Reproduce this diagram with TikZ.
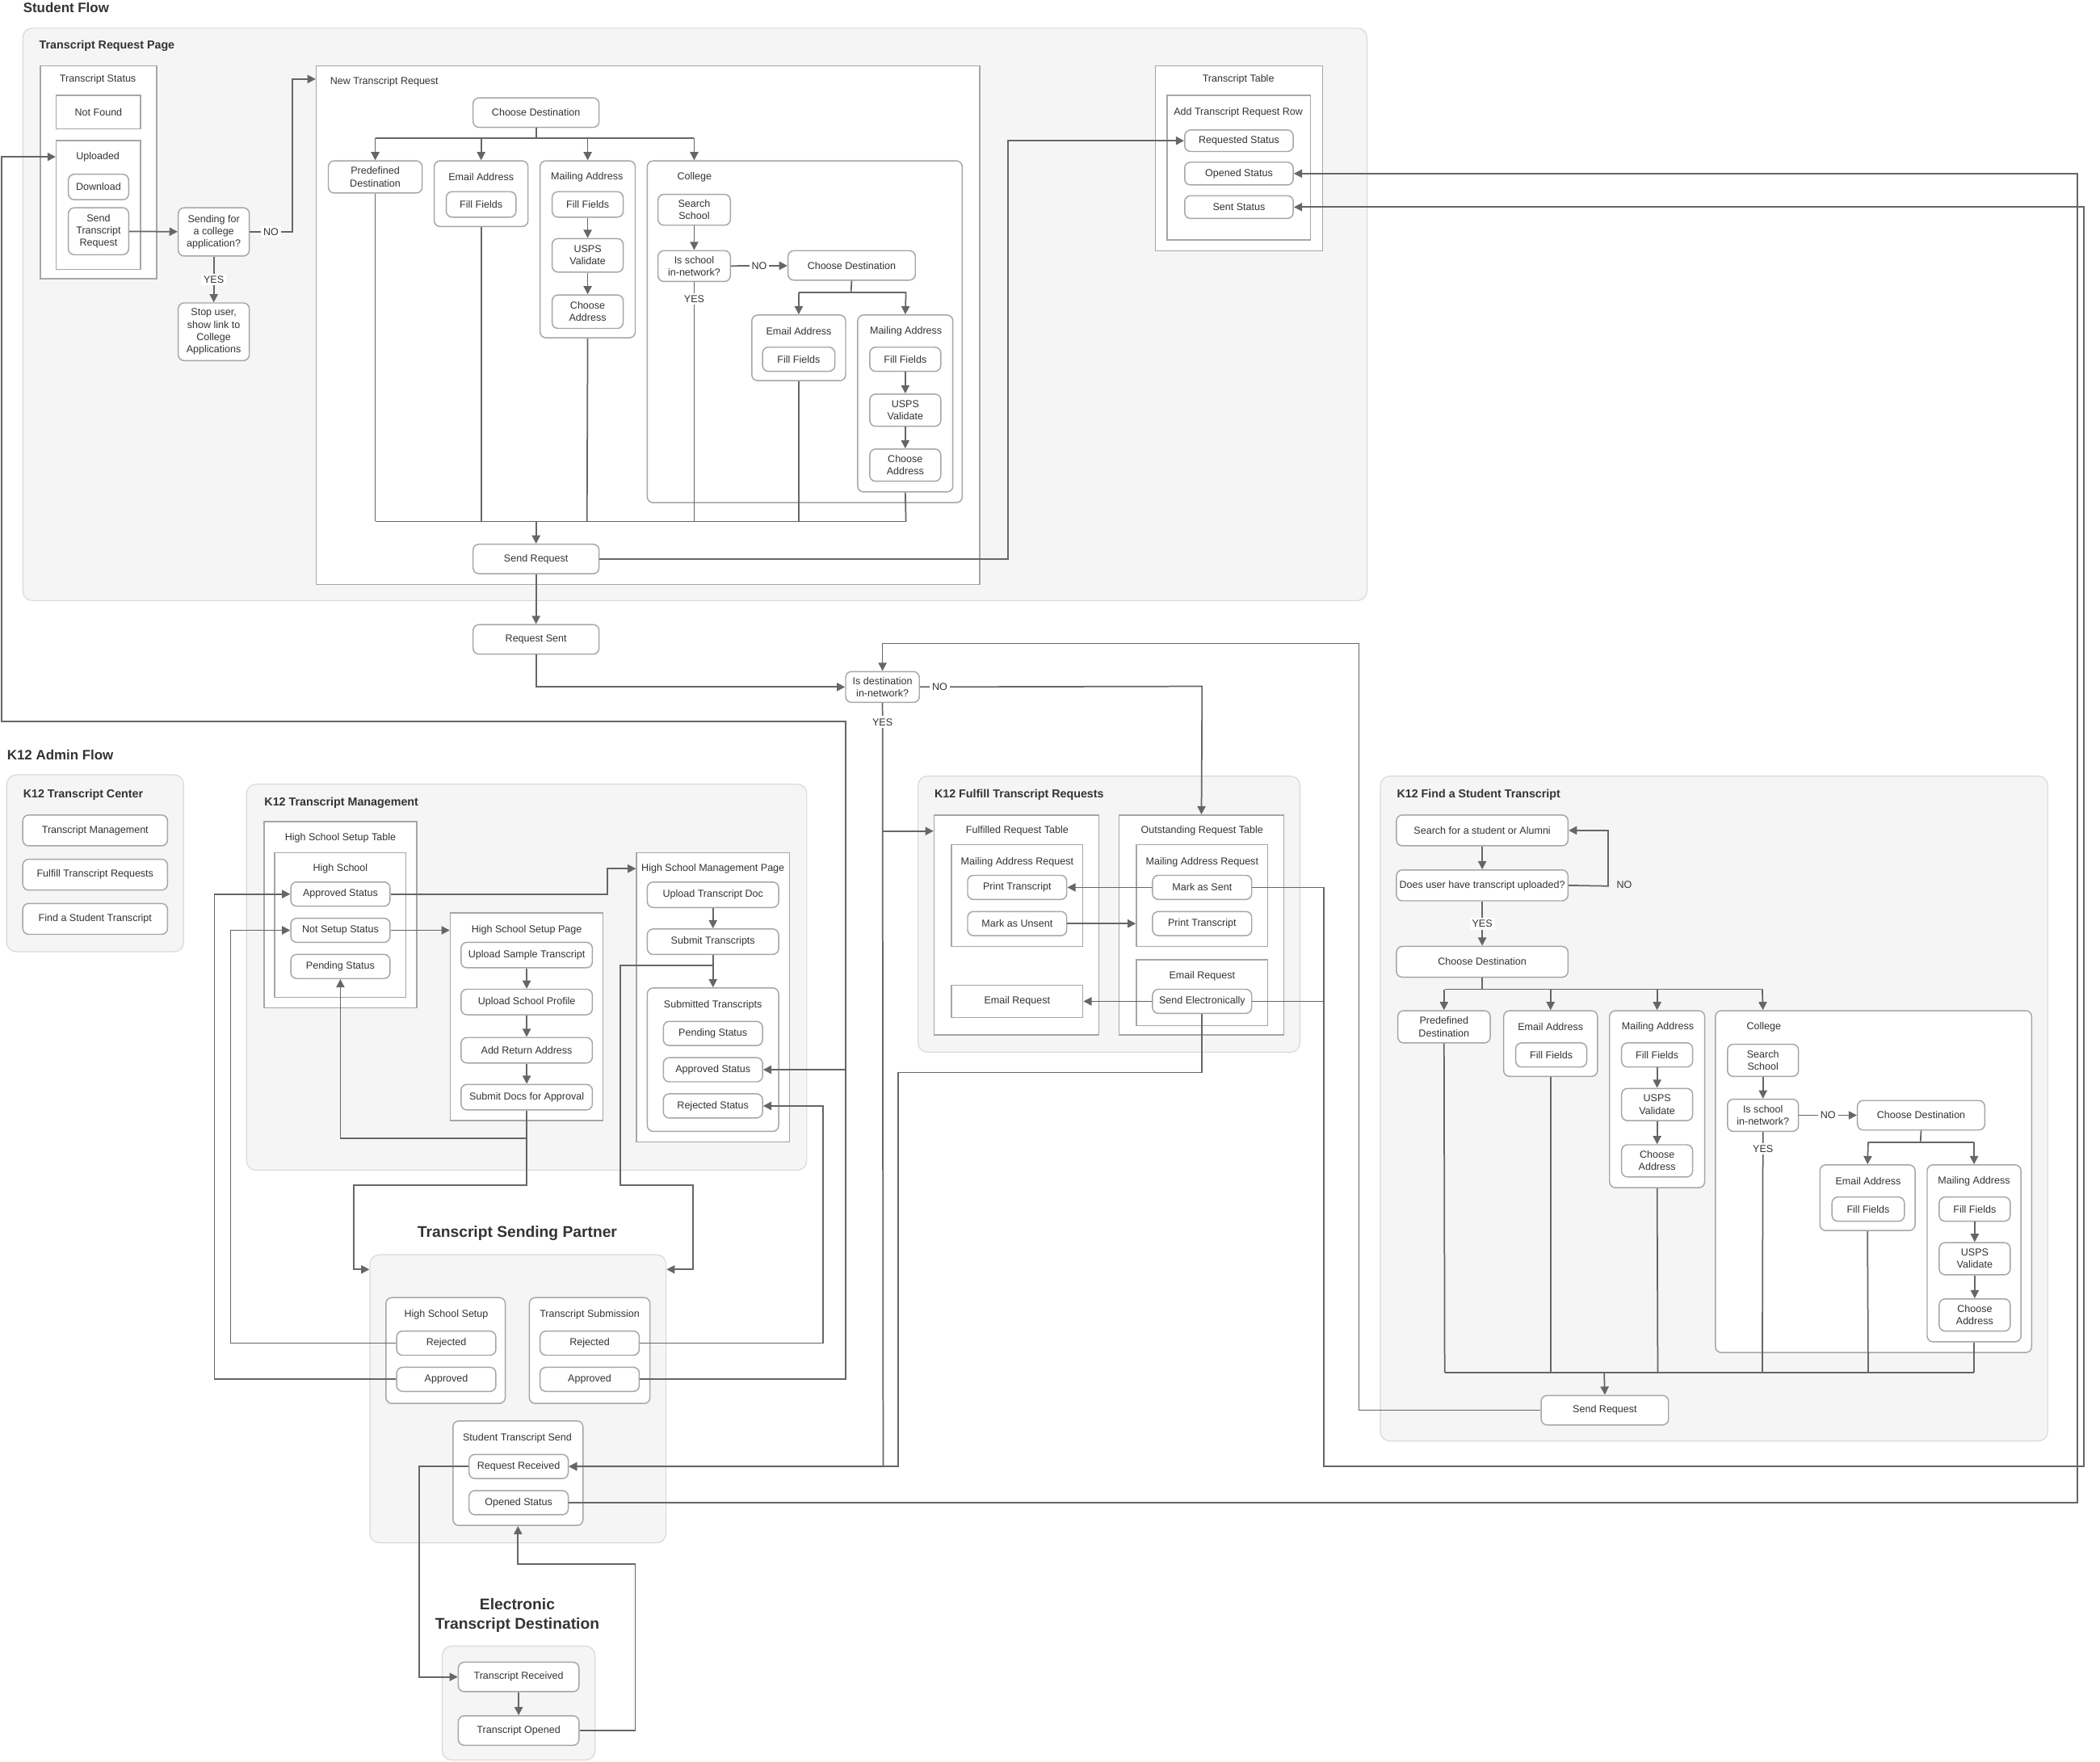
\documentclass[tikz,border=0pt]{standalone}
\usepackage{fontspec}
\setmainfont{Liberation Sans}
\usetikzlibrary{arrows.meta}
\newcommand{\fs}{\fontsize{4.3}{5.2}\selectfont}
\newcommand{\bx}[7][box]{\node[#1, minimum width={(#5-#3)*0.02cm}, minimum height={(#6-#4)*0.02cm}] (#2) at ({(#3+#5)/2},{(#4+#6)/2}) {#7};}
\tikzset{
  panel/.style={draw=black!15, fill=black!4, rounded corners=4pt, inner sep=0pt},
  cont/.style={draw=black!35, fill=white, line width=0.5pt, inner sep=0pt},
  box/.style={draw=black!35, fill=white, line width=0.5pt, rounded corners=2.5pt, inner sep=0pt, align=center, font=\fs, text=black!80},
  sq/.style={box, rounded corners=0pt},
  lbl/.style={font=\fs, text=black!80, inner sep=0pt},
  ttl/.style={font=\fontsize{5.8}{7}\selectfont\bfseries, text=black!80, inner sep=0pt, align=center},
  ptl/.style={font=\fontsize{4.9}{6}\selectfont\bfseries, text=black!80, inner sep=0pt, anchor=west},
  yl/.style={font=\fs, text=black!80, fill=white, inner sep=1pt},
  ln/.style={draw=black!60, line width=0.6pt},
  arr/.style={ln, -{Triangle[length=3.5pt,width=3.5pt]}}
}
\begin{document}
\begin{tikzpicture}[x=0.02cm, y=-0.02cm]
  \useasboundingbox (0,0) rectangle (1567,1314);
  % Student flow
  \node[ttl, anchor=west] (sfT) at (17,6) {Student Flow};
  \bx[panel]{trp}{17}{21}{1020}{448}{}
  \node[ptl] (trpT) at (29,34) {Transcript Request Page};
  \bx[cont]{ts}{30}{49}{117}{208}{}
  \node[lbl] (tsL) at (73,59) {Transcript Status};
  \bx[sq]{nf}{42}{71}{105}{96}{Not Found}
  \bx[cont]{up}{42}{105}{105}{201}{}
  \node[lbl] (upL) at (73,117) {Uploaded};
  \bx{dl}{51}{130}{96}{149}{Download}
  \bx{str}{51}{155}{96}{190}{Send\\Transcript\\Request}
  \bx{sfc}{133}{155}{186}{191}{Sending for\\a college\\application?}
  \bx{stop}{133}{226}{186}{269}{Stop user,\\show link to\\College\\Applications}

  \bx[cont]{ntr}{236}{49}{731}{436}{}
  \node[lbl, anchor=west] (ntrL) at (246,61) {New Transcript Request};
  \bx{cd1}{353}{73}{447}{95}{Choose Destination}
  \bx{pd1}{245}{120}{315}{144}{Predefined\\Destination}
  \bx[box]{ea1}{324}{120}{394}{169}{}
  \node[lbl] (ea1L) at (359,132) {Email Address};
  \bx{ff1}{333}{143}{385}{162}{Fill Fields}
  \bx[box]{ma1}{403}{120}{474}{252}{}
  \node[lbl] (ma1L) at (438,132) {Mailing Address};
  \bx{ff2}{412}{143}{465}{162}{Fill Fields}
  \bx{uv1}{412}{178}{465}{203}{USPS\\Validate}
  \bx{ca1}{412}{220}{465}{245}{Choose\\Address}
  \bx[box]{co1}{483}{120}{718}{375}{}
  \node[lbl, anchor=west] (co1L) at (505,132) {College};
  \bx{ss1}{491}{145}{545}{168}{Search\\School}
  \bx{isn1}{491}{187}{545}{210}{Is school\\in-network?}
  \bx{cd2}{588}{187}{683}{209}{Choose Destination}
  \bx[box]{ea2}{561}{235}{631}{284}{}
  \node[lbl] (ea2L) at (596,247) {Email Address};
  \bx{ff3}{569}{259}{623}{277}{Fill Fields}
  \bx[box]{ma2}{640}{235}{711}{367}{}
  \node[lbl] (ma2L) at (676,247) {Mailing Address};
  \bx{ff4}{649}{259}{702}{277}{Fill Fields}
  \bx{uv2}{649}{294}{702}{318}{USPS\\Validate}
  \bx{ca2}{649}{335}{702}{359}{Choose\\Address}
  \bx{sr1}{353}{406}{447}{428}{Send Request}

  \bx[cont]{tt}{862}{49}{987}{187}{}
  \node[lbl] (ttL) at (924,59) {Transcript Table};
  \bx[cont]{atr}{871}{71}{978}{179}{}
  \node[lbl] (atrL) at (924,84) {Add Transcript Request Row};
  \bx{rqs}{884}{97}{965}{113}{Requested Status}
  \bx{ops1}{884}{121}{965}{138}{Opened Status}
  \bx{sts}{884}{146}{965}{163}{Sent Status}

  \bx{rs1}{353}{466}{447}{488}{Request Sent}
  \bx{idn}{631}{501}{686}{524}{Is destination\\in-network?}

  % K12 admin flow
  \node[ttl, anchor=west] (kaT) at (5,563) {K12 Admin Flow};
  \bx[panel]{tc}{5}{578}{137}{710}{}
  \node[ptl] (tcT) at (17,593) {K12 Transcript Center};
  \bx{tm}{17}{608}{125}{631}{Transcript Management}
  \bx{ftr}{17}{641}{125}{664}{Fulfill Transcript Requests}
  \bx{fst}{17}{674}{125}{697}{Find a Student Transcript}

  \bx[panel]{tmg}{184}{585}{602}{873}{}
  \node[ptl] (tmgT) at (197,599) {K12 Transcript Management};
  \bx[cont]{hst}{197}{613}{311}{752}{}
  \node[lbl] (hstL) at (254,625) {High School Setup Table};
  \bx[cont]{hs}{205}{636}{303}{744}{}
  \node[lbl] (hsL) at (254,648) {High School};
  \bx{aps}{217}{658}{291}{676}{Approved Status}
  \bx{nss}{217}{685}{291}{703}{Not Setup Status}
  \bx{pns}{217}{712}{291}{730}{Pending Status}
  \bx[cont]{hsp}{336}{681}{450}{836}{}
  \node[lbl] (hspL) at (393,694) {High School Setup Page};
  \bx{ust}{344}{703}{442}{722}{Upload Sample Transcript}
  \bx{usp}{344}{738}{442}{757}{Upload School Profile}
  \bx{ara}{344}{774}{442}{793}{Add Return Address}
  \bx{sda}{344}{809}{442}{828}{Submit Docs for Approval}
  \bx[cont]{hsm}{475}{636}{589}{852}{}
  \node[lbl] (hsmL) at (532,648) {High School Management Page};
  \bx{utd}{483}{658}{581}{677}{Upload Transcript Doc}
  \bx{sbt}{483}{693}{581}{712}{Submit Transcripts}
  \bx[box]{sbc}{483}{737}{581}{844}{}
  \node[lbl] (sbcL) at (532,750) {Submitted Transcripts};
  \bx{pns2}{495}{762}{569}{780}{Pending Status}
  \bx{aps2}{495}{789}{569}{807}{Approved Status}
  \bx{rjs}{495}{816}{569}{834}{Rejected Status}

  \node[ttl, font=\fontsize{6.6}{8}\selectfont\bfseries] (tspT) at (386,920) {Transcript Sending Partner};
  \bx[panel]{tsp}{276}{936}{497}{1151}{}
  \bx[box]{hss}{288}{968}{377}{1047}{}
  \node[lbl] (hssL) at (333,981) {High School Setup};
  \bx{rj1}{296}{993}{370}{1011}{Rejected}
  \bx{ap1}{296}{1020}{370}{1038}{Approved}
  \bx[box]{tsb}{395}{968}{485}{1047}{}
  \node[lbl] (tsbL) at (440,981) {Transcript Submission};
  \bx{rj2}{403}{993}{477}{1011}{Rejected}
  \bx{ap2}{403}{1020}{477}{1038}{Approved}
  \bx[box]{sts2}{338}{1060}{435}{1138}{}
  \node[lbl] (sts2L) at (386,1073) {Student Transcript Send};
  \bx{rrc}{350}{1085}{424}{1103}{Request Received}
  \bx{ops2}{350}{1112}{424}{1130}{Opened Status}

  \node[ttl, font=\fontsize{6.6}{8}\selectfont\bfseries] (etdT) at (386,1205) {Electronic\\Transcript Destination};
  \bx[panel]{etd}{330}{1228}{444}{1313}{}
  \bx{trc}{342}{1240}{432}{1262}{Transcript Received}
  \bx{top}{342}{1280}{432}{1302}{Transcript Opened}

  \bx[panel]{ftp}{685}{579}{970}{785}{}
  \node[ptl] (ftpT) at (697,593) {K12 Fulfill Transcript Requests};
  \bx[cont]{frt}{697}{608}{820}{772}{}
  \node[lbl] (frtL) at (759,620) {Fulfilled Request Table};
  \bx[cont]{mar1}{710}{630}{808}{706}{}
  \node[lbl] (mar1L) at (759,643) {Mailing Address Request};
  \bx{pt1}{722}{653}{796}{671}{Print Transcript}
  \bx{mau}{722}{680}{796}{698}{Mark as Unsent}
  \bx[sq]{er1}{710}{735}{808}{759}{Email Request}
  \bx[cont]{ort}{835}{608}{958}{772}{}
  \node[lbl] (ortL) at (897,620) {Outstanding Request Table};
  \bx[cont]{mar2}{848}{630}{946}{706}{}
  \node[lbl] (mar2L) at (897,643) {Mailing Address Request};
  \bx{mas}{860}{653}{934}{671}{Mark as Sent}
  \bx{pt2}{860}{680}{934}{698}{Print Transcript}
  \bx[cont]{er2}{848}{716}{946}{765}{}
  \node[lbl] (er2L) at (897,728) {Email Request};
  \bx{sel}{860}{738}{934}{756}{Send Electronically}

  \bx[panel]{fsp}{1030}{579}{1528}{1075}{}
  \node[ptl] (fspT) at (1042,593) {K12 Find a Student Transcript};
  \bx{sfa}{1042}{608}{1170}{631}{Search for a student or Alumni}
  \bx{dut}{1042}{649}{1170}{672}{Does user have transcript uploaded?}
  \bx{cd3}{1042}{706}{1170}{729}{Choose Destination}
  \bx{pd3}{1043}{754}{1112}{778}{Predefined\\Destination}
  \bx[box]{ea3}{1122}{754}{1192}{803}{}
  \node[lbl] (ea3L) at (1157,766) {Email Address};
  \bx{ff5}{1131}{778}{1184}{796}{Fill Fields}
  \bx[box]{ma3}{1201}{754}{1272}{886}{}
  \node[lbl] (ma3L) at (1237,766) {Mailing Address};
  \bx{ff6}{1210}{778}{1263}{796}{Fill Fields}
  \bx{uv3}{1210}{812}{1263}{836}{USPS\\Validate}
  \bx{ca3}{1210}{854}{1263}{878}{Choose\\Address}
  \bx[box]{co3}{1280}{754}{1516}{1009}{}
  \node[lbl, anchor=west] (co3L) at (1303,766) {College};
  \bx{ss3}{1289}{779}{1342}{803}{Search\\School}
  \bx{isn3}{1289}{820}{1342}{844}{Is school\\in-network?}
  \bx{cd4}{1386}{821}{1481}{843}{Choose Destination}
  \bx[box]{ea4}{1358}{869}{1429}{918}{}
  \node[lbl] (ea4L) at (1394,881) {Email Address};
  \bx{ff7}{1367}{893}{1421}{911}{Fill Fields}
  \bx[box]{ma4}{1438}{869}{1508}{1001}{}
  \node[lbl] (ma4L) at (1473,881) {Mailing Address};
  \bx{ff8}{1447}{893}{1500}{911}{Fill Fields}
  \bx{uv4}{1447}{927}{1500}{951}{USPS\\Validate}
  \bx{ca4}{1447}{969}{1500}{993}{Choose\\Address}
  \bx{sr2}{1150}{1041}{1245}{1063}{Send Request}

  % Transcript request page
  \draw[arr] (str) -- (sfc);
  \draw[arr] (sfc.east) -- node[yl]{NO} (218,173) -- (218,59) -- (ntr.west |- 0,59);
  \draw[arr] (sfc) -- node[yl]{YES} (stop);
  \draw[ln] (cd1.south) -- (400,103);
  \draw[ln] (280,103) -- (518,103);
  \foreach \n in {pd1,ea1,ma1} \draw[arr] (\n.north |- 0,103) -- (\n.north);
  \draw[arr] (518,103) -- (ss1.north |- co1.north);
  \draw[arr] (ff2) -- (uv1);
  \draw[arr] (uv1) -- (ca1);
  \draw[arr] (ss1) -- (isn1);
  \draw[arr] (isn1) -- node[yl]{NO} (cd2);
  \draw[ln] (cd2.south) -- (635,218);
  \draw[ln] (596,218) -- (676,218);
  \draw[arr] (596,218) -- (ea2.north);
  \draw[arr] (676,218) -- (ma2.north);
  \draw[arr] (ff4) -- (uv2);
  \draw[arr] (uv2) -- (ca2);
  \draw[ln] (pd1.south) -- (280,389);
  \draw[ln] (ea1.south) -- (359,389);
  \draw[ln] (ma1.south) -- (438,389);
  \draw[ln] (isn1.south) -- node[yl, pos=0.07]{YES} (518,389);
  \draw[ln] (ea2.south) -- (596,389);
  \draw[ln] (ma2.south) -- (676,389);
  \draw[ln] (280,389) -- (676,389);
  \draw[arr] (400,389) -- (sr1.north);
  \draw[arr] (sr1.east) -- (752,417) |- (rqs.west);
  \draw[arr] (sr1) -- (rs1);
  \draw[arr] (rs1.south) |- (idn.west);

  % Destination check
  \draw[arr] (idn.south) -- node[yl, pos=0.025]{YES} (659,1094) -- (rrc.east);
  \draw[arr] (659,620) -- (frt.west |- frtL);
  \draw[arr] (idn.east) -- node[yl, pos=0.07]{NO} (897,512) -- (ort.north);
  \draw[arr] (sr2.west) -- (1014,1052) -- (1014,480) -| (idn.north);

  % Transcript management
  \draw[arr] (utd) -- (sbt);
  \draw[arr] (sbt) -- (sbc);
  \draw[arr] (aps.east) -- (453,667) |- (hsm.west |- hsmL);
  \draw[arr] (nss) -- (hsp.west |- nss);
  \draw[arr] (ust) -- (usp);
  \draw[arr] (usp) -- (ara);
  \draw[arr] (ara) -- (sda);
  \draw[arr] (sda.south) -- (393,849) -| (pns.south);
  \draw[arr] (393,849) -- (393,884) -| (264,947) -- (tsp.west |- 0,947);
  \draw[arr] (532,720) -- (463,720) -- (463,884) -| (517,947) -- (tsp.east |- 0,947);

  % Sending partner
  \draw[arr] (rj1.west) -- (172,1002) |- (nss.west);
  \draw[arr] (ap1.west) -- (160,1029) |- (aps.west);
  \draw[arr] (rj2.east) -- (614,1002) |- (rjs.east);
  \draw[arr] (ap2.east) -- (631,1029) -- (631,538) -- (1,538) -- (1,117) -- (up.west |- upL);
  \draw[arr] (631,798) -- (aps2.east);
  \draw[arr] (ops2.east) -- (1550,1121) |- (ops1.east);
  \draw[arr] (rrc.west) -- (313,1094) |- (trc.west);
  \draw[arr] (trc) -- (top);
  \draw[arr] (top.east) -- (474,1291) -- (474,1167) -| (sts2.south);

  % Fulfill requests
  \draw[arr] (mas) -- (pt1);
  \draw[arr] (mau) -- (mar2.west |- mau);
  \draw[arr] (sel) -- (er1);
  \draw[ln] (mas.east) -- (988,662) -- (988,747);
  \draw[arr] (sel.east) -- (988,747) -- (988,1094) -- (1555,1094) |- (sts.east);
  \draw[arr] (sel.south) -- (897,800) -- (670,800) -- (670,1094) -- (rrc.east);

  % Find a student transcript
  \draw[arr] (sfa) -- (dut);
  \draw[arr] (dut.east) -- (1200,661) |- (sfa.east);
  \node[lbl] (noF) at (1212,660) {NO};
  \draw[arr] (dut) -- node[yl]{YES} (cd3);
  \draw[ln] (cd3.south) -- (1106,738);
  \draw[ln] (1078,738) -- (1315,738);
  \foreach \n in {pd3,ea3,ma3} \draw[arr] (\n.north |- 0,738) -- (\n.north);
  \draw[arr] (1315,738) -- (ss3.north |- co3.north);
  \draw[arr] (ff6) -- (uv3);
  \draw[arr] (uv3) -- (ca3);
  \draw[arr] (ss3) -- (isn3);
  \draw[arr] (isn3) -- node[yl]{NO} (cd4);
  \draw[ln] (cd4.south) -- (1433,852);
  \draw[ln] (1394,852) -- (1473,852);
  \draw[arr] (1394,852) -- (ea4.north);
  \draw[arr] (1473,852) -- (ma4.north);
  \draw[arr] (ff8) -- (uv4);
  \draw[arr] (uv4) -- (ca4);
  \draw[ln] (pd3.south) -- (1078,1024);
  \draw[ln] (ea3.south) -- (1157,1024);
  \draw[ln] (ma3.south) -- (1237,1024);
  \draw[ln] (isn3.south) -- node[yl, pos=0.07]{YES} (1315,1024);
  \draw[ln] (ea4.south) -- (1394,1024);
  \draw[ln] (ma4.south) -- (1473,1024);
  \draw[ln] (1078,1024) -- (1473,1024);
  \draw[arr] (1197,1024) -- (sr2.north);
\end{tikzpicture}
\end{document}
